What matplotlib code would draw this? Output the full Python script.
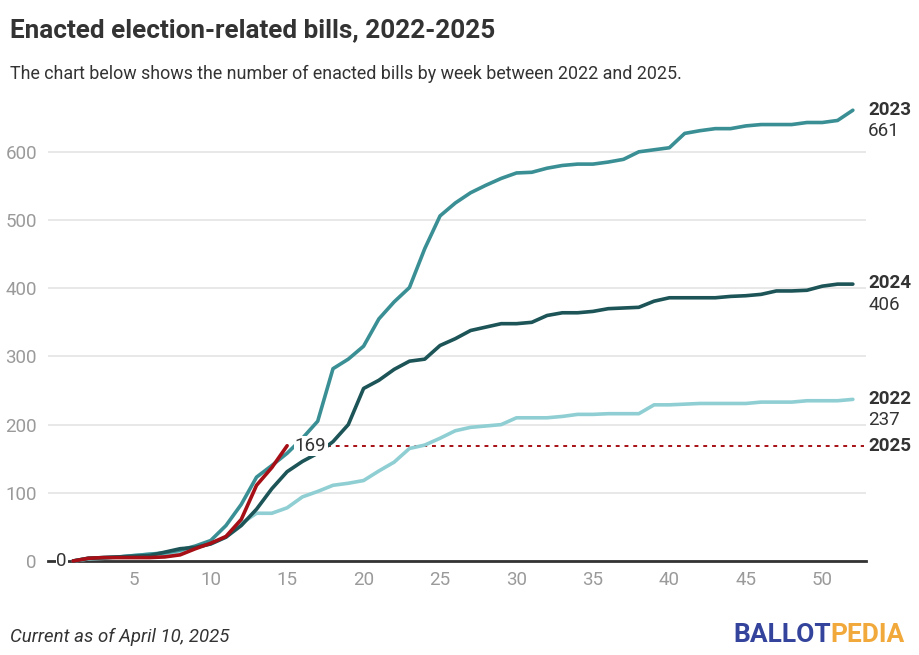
import matplotlib
matplotlib.use('Agg')
import matplotlib.pyplot as plt

plt.rcParams['font.family'] = ['Roboto', 'DejaVu Sans']

# weekly cumulative enacted bills
weeks = list(range(1, 53))
bills_2022 = [0, 3, 4, 6, 8, 10, 10, 14, 20, 25, 35, 55, 70, 70, 78, 94, 102, 111, 114, 118,
              132, 145, 165, 170, 180, 191, 196, 198, 200, 210, 210, 210, 212, 215, 215, 216,
              216, 216, 229, 229, 230, 231, 231, 231, 231, 233, 233, 233, 235, 235, 235, 237]
bills_2023 = [0, 4, 5, 6, 8, 10, 12, 16, 22, 30, 52, 83, 123, 140, 158, 180, 205, 282, 296, 315,
              355, 380, 401, 458, 506, 525, 540, 551, 561, 569, 570, 576, 580, 582, 582, 585,
              589, 600, 603, 606, 627, 631, 634, 634, 638, 640, 640, 640, 643, 643, 646, 661]
bills_2024 = [0, 4, 5, 6, 7, 8, 13, 18, 20, 25, 35, 52, 76, 106, 131, 146, 158, 175, 200, 253,
              265, 281, 293, 296, 316, 326, 338, 343, 348, 348, 350, 360, 364, 364, 366, 370,
              371, 372, 381, 386, 386, 386, 386, 388, 389, 391, 396, 396, 397, 403, 406, 406]
weeks_2025 = list(range(1, 16))
bills_2025 = [0, 4, 5, 5, 5, 5, 6, 9, 18, 26, 36, 61, 111, 137, 169]

c2022 = '#8fcfd3'
c2023 = '#3a8f95'
c2024 = '#1c5457'
c2025 = '#a50f15'

fig = plt.figure(figsize=(9.19, 6.55), dpi=100)
ax = fig.add_axes([48 / 919, 94 / 655, 818 / 919, 461 / 655])

ax.plot(weeks, bills_2022, color=c2022, lw=2.6, solid_capstyle='round', clip_on=False, zorder=3)
ax.plot(weeks, bills_2024, color=c2024, lw=2.6, solid_capstyle='round', clip_on=False, zorder=4)
ax.plot(weeks, bills_2023, color=c2023, lw=2.6, solid_capstyle='round', clip_on=False, zorder=3)
ax.plot(weeks_2025, bills_2025, color=c2025, lw=2.6, solid_capstyle='round', clip_on=False, zorder=5)

# dotted reference for 2025 current value
ax.plot([17.6, 52.7], [bills_2025[-1], bills_2025[-1]], color=c2025, lw=1.4,
        ls=(0, (2, 2.5)), zorder=2, clip_on=False)

ax.set_xlim(-0.64, 52.86)
ax.set_ylim(0, 676)
ax.set_yticks([0, 100, 200, 300, 400, 500, 600])
ax.set_xticks([5, 10, 15, 20, 25, 30, 35, 40, 45, 50])
ax.grid(axis='y', color='#e2e2e2', lw=1.1)
ax.set_axisbelow(True)
for s in ['top', 'right', 'left']:
    ax.spines[s].set_visible(False)
ax.spines['bottom'].set_color('#333333')
ax.spines['bottom'].set_linewidth(2)
ax.tick_params(axis='both', length=0, colors='#9a9a9a', labelsize=13.5)
ax.tick_params(axis='y', pad=8)
ax.tick_params(axis='x', pad=7)

# start / end value labels for 2025
ax.text(-0.1, 0, '0', color='#333333', fontsize=13.5, ha='left', va='center', zorder=6,
        bbox=dict(facecolor='white', edgecolor='none', pad=0.5))
ax.text(15.5, bills_2025[-1], '169', color='#333333', fontsize=13.5, ha='left', va='center', zorder=6,
        bbox=dict(facecolor='white', edgecolor='none', pad=0.8))

# right-hand year labels
xr = 53.0
lab = dict(fontsize=13.5, color='#333333', ha='left', va='center', clip_on=False)
ax.text(xr, 661, '2023', fontweight='bold', **lab)
ax.text(xr, 630, '661', **lab)
ax.text(xr, 407, '2024', fontweight='bold', **lab)
ax.text(xr, 375, '406', **lab)
ax.text(xr, 238, '2022', fontweight='bold', **lab)
ax.text(xr, 207, '237', **lab)
ax.text(xr, 169, '2025', fontweight='bold', **lab)

fig.text(10 / 919, 1 - 30 / 655, 'Enacted election-related bills, 2022-2025', fontsize=18.8,
         fontweight='bold', color='#333333', ha='left', va='center')
fig.text(10 / 919, 1 - 74 / 655,
         'The chart below shows the number of enacted bills by week between 2022 and 2025.',
         fontsize=12.9, color='#333333', ha='left', va='center')
fig.text(10 / 919, 1 - 637 / 655, 'Current as of April 10, 2025', fontsize=13.4, style='italic',
         color='#333333', ha='left', va='center')
t1 = fig.text(1 - 14 / 919, 1 - 635 / 655, 'PEDIA', fontsize=19, fontweight='bold',
              color='#f2a93b', ha='right', va='center')
fig.canvas.draw()
bb = t1.get_window_extent()
fig.text(bb.x0 / fig.bbox.width, 1 - 635 / 655, 'BALLOT', fontsize=19, fontweight='bold',
         color='#34439b', ha='right', va='center')

fig.savefig('out.png', dpi=100)
